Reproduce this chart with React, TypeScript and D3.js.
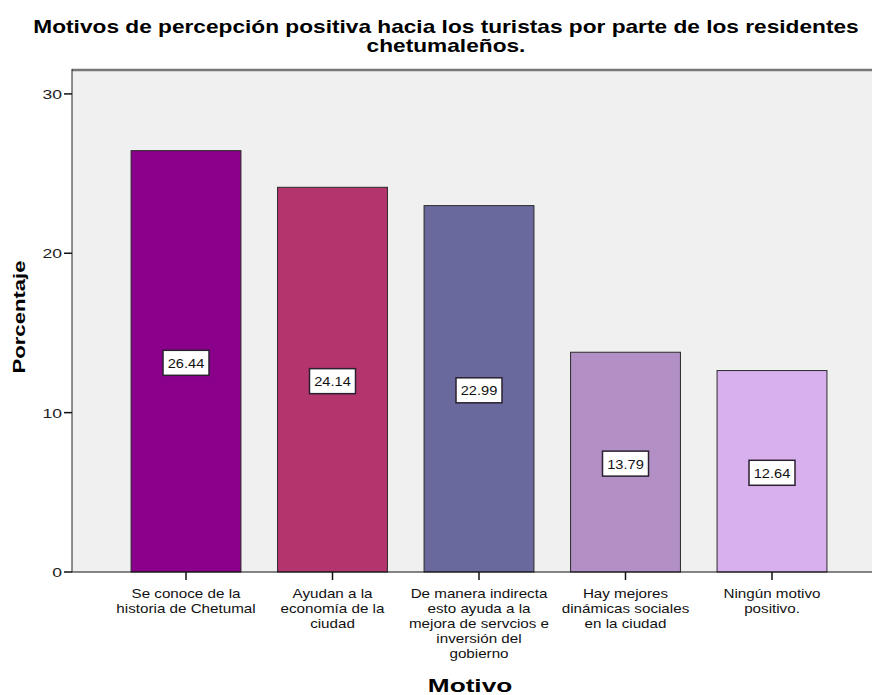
import React from "react";
import * as d3 from "d3";

const categories: string[][] = [
  ["Se conoce de la", "historia de Chetumal"],
  ["Ayudan a la", "economía de la", "ciudad"],
  ["De manera indirecta", "esto ayuda a la", "mejora de servcios e", "inversión del", "gobierno"],
  ["Hay mejores", "dinámicas sociales", "en la ciudad"],
  ["Ningún motivo", "positivo."],
];
const values = [26.44, 24.14, 22.99, 13.79, 12.64];
const colors = ["#8b008b", "#b4346d", "#6a699d", "#b290c5", "#d9b0ee"];
const yTicks = [0, 10, 20, 30];
const titleLines = [
  "Motivos de percepción positiva hacia los turistas por parte de los residentes",
  "chetumaleños.",
];

const W = 873;
const H = 695;
const FONT = "'Liberation Sans', Arial, sans-serif";

function ST(props: {
  x: number;
  y: number;
  s: number;
  size: number;
  anchor?: string;
  bold?: boolean;
  rotate?: number;
  fill?: string;
  children: React.ReactNode;
}) {
  const { x, y, s, size, anchor = "middle", bold, rotate = 0, fill = "#111", children } = props;
  return (
    <text
      transform={`translate(${x},${y}) rotate(${rotate}) scale(${s},1)`}
      textAnchor={anchor}
      fontSize={size}
      fontWeight={bold ? "bold" : "normal"}
      fill={fill}
    >
      {children}
    </text>
  );
}

export default function App() {
  const left = 72;
  const right = 872;
  const top = 70;
  const bottom = 572;
  const x = d3
    .scaleBand<number>()
    .domain(values.map((_, i) => i))
    .range([112.75, 845.25])
    .paddingInner(0.25)
    .paddingOuter(0.125);
  const y = d3.scaleLinear().domain([0, 31.5]).range([bottom, top]);

  return (
    <svg
      width={W}
      height={H}
      style={{ position: "absolute", left: 0, top: 0, background: "#fff" }}
      fontFamily={FONT}
    >
      {titleLines.map((t, i) => (
        <ST key={i} x={446} y={33 + i * 18.5} s={1.26} size={18} bold fill="#000">
          {t}
        </ST>
      ))}
      <rect x={left} y={top} width={right - left} height={bottom - top} fill="#f0f0f0" />
      <line x1={left} x2={right} y1={top} y2={top} stroke="#777" strokeWidth={2.5} />
      <line x1={left} x2={left} y1={top - 1} y2={bottom} stroke="#222" strokeWidth={1} />
      {values.map((v, i) => (
        <rect
          key={i}
          x={x(i)!}
          y={y(v)}
          width={x.bandwidth()}
          height={y(0) - y(v)}
          fill={colors[i]}
          stroke="#2a2a2a"
          strokeWidth={1}
        />
      ))}
      <line x1={left} x2={right} y1={bottom} y2={bottom} stroke="#111" strokeWidth={1.2} />
      {yTicks.map((t) => (
        <g key={t}>
          <line x1={left - 8} x2={left} y1={y(t)} y2={y(t)} stroke="#111" strokeWidth={1.5} />
          <ST x={left - 10} y={y(t) + 5} s={1.35} size={13} anchor="end" fill="#222">
            {t}
          </ST>
        </g>
      ))}
      {values.map((v, i) => {
        const cx = x(i)! + x.bandwidth() / 2;
        const cy = y(v / 2) + 1.5;
        return (
          <g key={i}>
            <line x1={cx} x2={cx} y1={bottom} y2={bottom + 8} stroke="#111" strokeWidth={1.5} />
            <rect x={cx - 23} y={cy - 12.5} width={46} height={25} fill="#fff" stroke="#2a2030" strokeWidth={1.5} />
            <ST x={cx} y={cy + 5} s={1.08} size={13.5} fill="#111">
              {v.toFixed(2)}
            </ST>
            {categories[i].map((line, j) => (
              <ST key={j} x={cx} y={598 + j * 15} s={1.17} size={13} fill="#111">
                {line}
              </ST>
            ))}
          </g>
        );
      })}
      <ST x={25} y={317} s={1.3} size={17} bold rotate={-90} fill="#000">
        Porcentaje
      </ST>
      <ST x={470} y={692} s={1.38} size={19} bold fill="#000">
        Motivo
      </ST>
    </svg>
  );
}
